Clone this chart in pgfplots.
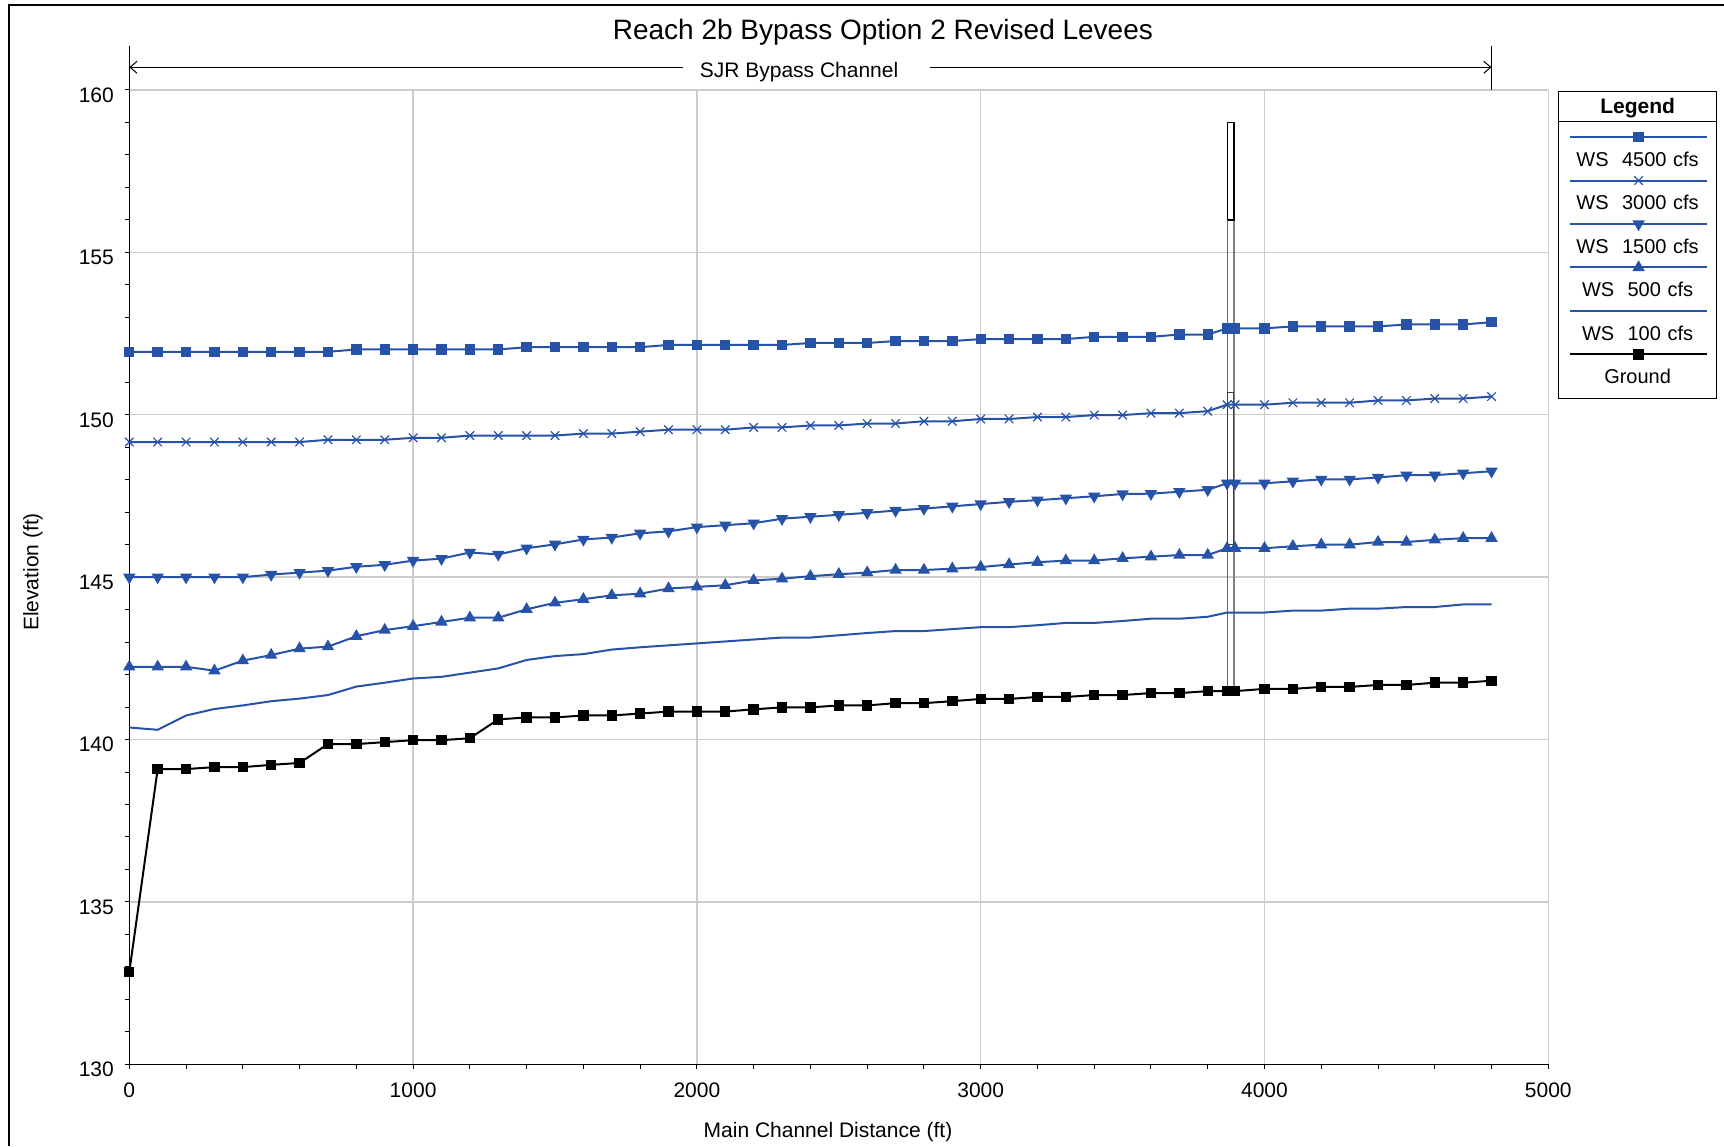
\documentclass[border=0pt]{standalone}
\usepackage{fontspec}
\setmainfont{Liberation Sans}
\usepackage{pgfplots}
\usepackage{pgfplotstable}
\pgfplotsset{compat=1.18}
\usetikzlibrary{arrows.meta}
\definecolor{wsblue}{RGB}{38,82,168}
\definecolor{gridgray}{RGB}{204,204,204}

\pgfplotstableread{
x     wsa     wsb     wsc     wsd     wse     gr
0     151.94  149.16  145.00  142.24  140.37  132.84
100   151.94  149.16  145.00  142.24  140.30  139.09
200   151.94  149.16  145.00  142.24  140.74  139.09
300   151.94  149.16  145.00  142.12  140.94  139.15
400   151.94  149.16  145.00  142.43  141.05  139.15
500   151.94  149.16  145.08  142.60  141.18  139.22
600   151.94  149.16  145.14  142.80  141.26  139.28
700   151.94  149.23  145.20  142.86  141.37  139.86
800   152.01  149.23  145.32  143.18  141.63  139.86
900   152.01  149.23  145.38  143.37  141.75  139.92
1000  152.01  149.29  145.51  143.49  141.88  139.98
1100  152.01  149.29  145.57  143.62  141.93  139.98
1200  152.01  149.36  145.76  143.75  142.06  140.04
1300  152.01  149.36  145.70  143.75  142.19  140.62
1400  152.08  149.36  145.89  144.01  142.45  140.68
1500  152.08  149.36  146.01  144.21  142.57  140.68
1600  152.08  149.42  146.16  144.32  142.63  140.74
1700  152.08  149.42  146.22  144.44  142.77  140.74
1800  152.08  149.48  146.35  144.49  142.84  140.80
1900  152.15  149.54  146.41  144.65  142.90  140.86
2000  152.15  149.54  146.54  144.70  142.96  140.86
2100  152.15  149.54  146.60  144.75  143.02  140.86
2200  152.15  149.61  146.66  144.90  143.08  140.93
2300  152.15  149.61  146.80  144.95  143.14  140.99
2400  152.21  149.67  146.86  145.03  143.14  140.99
2500  152.21  149.67  146.92  145.09  143.21  141.05
2600  152.21  149.73  146.98  145.14  143.28  141.05
2700  152.27  149.73  147.05  145.22  143.34  141.12
2800  152.27  149.80  147.11  145.22  143.34  141.12
2900  152.27  149.80  147.18  145.26  143.40  141.18
3000  152.33  149.87  147.25  145.31  143.46  141.25
3100  152.33  149.87  147.32  145.39  143.46  141.25
3200  152.33  149.93  147.37  145.46  143.52  141.31
3300  152.33  149.93  147.43  145.51  143.59  141.31
3400  152.40  149.99  147.49  145.51  143.59  141.37
3500  152.40  149.99  147.56  145.58  143.65  141.37
3600  152.40  150.05  147.57  145.63  143.72  141.43
3700  152.47  150.05  147.63  145.68  143.72  141.43
3800  152.47  150.11  147.69  145.68  143.78  141.49
3868  152.66  150.31  147.89  145.89  143.91  141.49
3896  152.66  150.31  147.89  145.89  143.91  141.49
4000  152.66  150.31  147.89  145.89  143.91  141.56
4100  152.72  150.37  147.95  145.95  143.97  141.56
4200  152.72  150.37  148.01  146.00  143.97  141.62
4300  152.72  150.37  148.01  146.00  144.03  141.62
4400  152.72  150.44  148.07  146.08  144.03  141.68
4500  152.78  150.44  148.14  146.08  144.08  141.68
4600  152.78  150.50  148.14  146.15  144.08  141.75
4700  152.78  150.50  148.20  146.20  144.16  141.75
4800  152.85  150.56  148.26  146.20  144.16  141.81
}\datatable

\pgfplotsset{
  wsline/.style={color=wsblue, line width=1pt},
  lg/.style={legend image code/.code={%
    \draw[overlay, mark repeat=2, mark phase=2] plot coordinates {(5.5pt,11pt) (40pt,11pt) (74pt,11pt)};}},
}

\begin{document}
\begin{tikzpicture}
\path[use as bounding box] (-64.65pt,-40.85pt) rectangle (797.35pt,532.15pt);
\begin{axis}[
  at={(0pt,0pt)}, anchor=south west,
  scale only axis, width=709.5pt, height=487.15pt,
  xmin=0, xmax=5000, ymin=130, ymax=160,
  xtick distance=1000, ytick distance=5,
  minor x tick num=4, minor y tick num=4,
  axis x line*=bottom, axis y line*=left,
  axis line style={-, black, line width=0.7pt},
  tick align=outside,
  major tick length=2.2pt, minor tick length=2.2pt,
  tick style={black, line width=0.5pt},
  grid=major,
  major grid style={gridgray, line width=0.65pt},
  clip=false,
  /pgf/number format/assume math mode=true,
  /pgf/number format/set thousands separator={},
  tick label style={font=\fontsize{10.5}{12}\selectfont},
  yticklabel style={yshift=-2.6pt, xshift=-2pt},
  xticklabel style={yshift=-3.6pt},
  label style={font=\fontsize{10.5}{12}\selectfont},
  xlabel={Main Channel Distance (ft)},
  ylabel={Elevation (ft)},
  xlabel style={at={(axis description cs:0.4924,-0.0700)}, anchor=center},
  ylabel style={at={(axis description cs:-0.0679,0.5053)}, anchor=center},
  title={Reach 2b Bypass Option 2 Revised Levees},
  title style={at={(axis description cs:0.5311,1.0595)}, anchor=center, yshift=-6pt, font=\fontsize{14}{16}\selectfont},
  legend style={at={(axis description cs:1.00684,0.99928)}, anchor=north west,
    draw=black, line width=0.6pt, fill=white, inner sep=0pt, row sep=0pt, column sep=0pt,
    font=\fontsize{10}{12}\selectfont,
    nodes={inner sep=0pt, text width=79pt, align=center, anchor=center, text height=14.47pt, text depth=7.27pt}},
]
% bridge
\addplot[forget plot, color=black!60, line width=0.5pt] coordinates {(3870,141.5) (3870,156)};
\addplot[forget plot, color=black!50, line width=1pt] coordinates {(3892,141.5) (3892,156)};
\addplot[forget plot, color=black!75, line width=0.5pt] coordinates {(3870,146) (3892,146) (3892,150.7) (3870,150.7) (3870,146)};
\addplot[forget plot, color=black, line width=0.7pt] coordinates {(3870,156) (3892,156) (3892,159) (3870,159) (3870,156)};
% data
\addplot[forget plot, wsline, mark=none] table[x=x, y=wse] {\datatable};
\addplot[forget plot, wsline, mark=triangle*, mark size=2.6pt] table[x=x, y=wsd] {\datatable};
\addplot[forget plot, wsline, mark=triangle*, mark size=2.6pt, mark options={rotate=180}] table[x=x, y=wsc] {\datatable};
\addplot[forget plot, wsline, mark=x, mark size=3pt, mark options={line width=0.6pt}] table[x=x, y=wsb] {\datatable};
\addplot[forget plot, wsline, mark=square*, mark size=2.1pt] table[x=x, y=wsa] {\datatable};
\addplot[forget plot, black, line width=1pt, mark=square*, mark size=2.1pt] table[x=x, y=gr] {\datatable};
% annotation
\draw[line width=0.5pt] (axis cs:0,160) -- (axis cs:0,161.35);
\draw[line width=0.5pt] (axis cs:4800,160) -- (axis cs:4800,161.35);
\draw[line width=0.5pt, {Straight Barb[length=3.5pt,width=6pt]}-] (axis cs:0,160.70) -- (axis cs:1950,160.70);
\draw[line width=0.5pt, -{Straight Barb[length=3.5pt,width=6pt]}] (axis cs:2820,160.70) -- (axis cs:4800,160.70);
\node[font=\fontsize{10.5}{12}\selectfont, anchor=center] at (axis cs:2360,160.54) {SJR Bypass Channel};
% legend
\addlegendimage{empty legend}
\addlegendentry[text height=11.1pt, text depth=11.9pt, font=\fontsize{10.5}{12}\selectfont\bfseries]{Legend}
\addlegendimage{wsline, mark=square*, mark size=2.1pt,
  legend image code/.code={%
    \draw[overlay, black, line width=0.6pt] (0pt,18.85pt) -- (79pt,18.85pt);
    \draw[overlay, mark repeat=2, mark phase=2] plot coordinates {(5.5pt,11pt) (40pt,11pt) (74pt,11pt)};}}
\addlegendentry{WS\ \ 4500 cfs}
\addlegendimage{wsline, mark=x, mark size=3pt, mark options={line width=0.6pt}, lg}
\addlegendentry{WS\ \ 3000 cfs}
\addlegendimage{wsline, mark=triangle*, mark size=2.6pt, mark options={rotate=180}, lg}
\addlegendentry{WS\ \ 1500 cfs}
\addlegendimage{wsline, mark=triangle*, mark size=2.6pt, lg}
\addlegendentry{WS\ \ 500 cfs}
\addlegendimage{wsline, mark=none, lg}
\addlegendentry{WS\ \ 100 cfs}
\addlegendimage{black, line width=1pt, mark=square*, mark size=2.1pt, lg}
\addlegendentry{Ground}
\end{axis}
\draw[line width=1pt] (-60.15pt,-40.85pt) -- (-60.15pt,529.4pt) -- (797.35pt,529.4pt);
\end{tikzpicture}
\end{document}
